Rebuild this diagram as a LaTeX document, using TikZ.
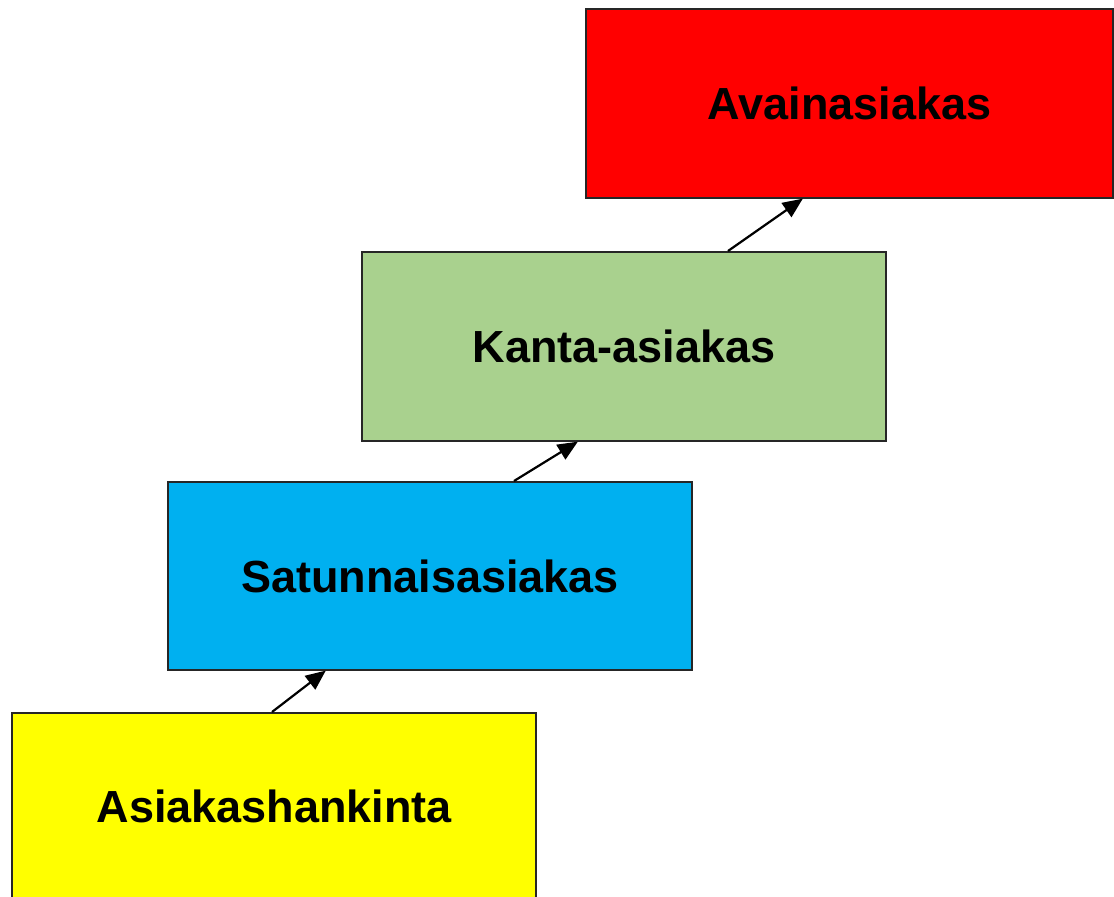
\documentclass[tikz,border=0pt]{standalone}
\usepackage{fontspec}
\setmainfont{Liberation Sans}
\usetikzlibrary{arrows.meta,calc}
\definecolor{cred}{HTML}{FF0000}
\definecolor{cgreen}{HTML}{A9D18E}
\definecolor{cblue}{HTML}{00B0F0}
\definecolor{cyellow}{HTML}{FFFF00}
\begin{document}
\begin{tikzpicture}[x=1pt,y=-1pt,
  stage/.style={draw=black!85, line width=2.2pt, minimum width=524pt, inner sep=0pt,
    font=\fontsize{45}{45}\selectfont\bfseries, text=black},
  conn/.style={line width=2.2pt, -{Triangle[length=20pt,width=17pt]}, shorten >=-1pt}]
\useasboundingbox (0,0) rectangle (1114,897);
\fill[white] (0,0) rectangle (1114,897);
\node[stage, fill=cred, minimum height=189pt, minimum width=527pt, anchor=north west] (red) at (585,8) {Avainasiakas};
\node[stage, fill=cgreen, minimum height=189pt, anchor=north west] (green) at (361,251) {Kanta-asiakas};
\node[stage, fill=cblue, minimum height=188pt, anchor=north west] (blue) at (167,481) {Satunnaisasiakas};
\node[stage, fill=cyellow, minimum height=187pt, anchor=north west] (yellow) at (11,712) {Asiakashankinta};
\coordinate (a1) at ($(yellow.north west)+(261,0)$);
\coordinate (b1) at ($(blue.south west)+(158,0)$);
\coordinate (a2) at ($(blue.north west)+(347,0)$);
\coordinate (b2) at ($(green.south west)+(216,0)$);
\coordinate (a3) at ($(green.north west)+(367,0)$);
\coordinate (b3) at ($(red.south west)+(217,0)$);
\draw[conn] (a1) -- (b1);
\draw[conn] (a2) -- (b2);
\draw[conn] (a3) -- (b3);
\end{tikzpicture}
\end{document}
